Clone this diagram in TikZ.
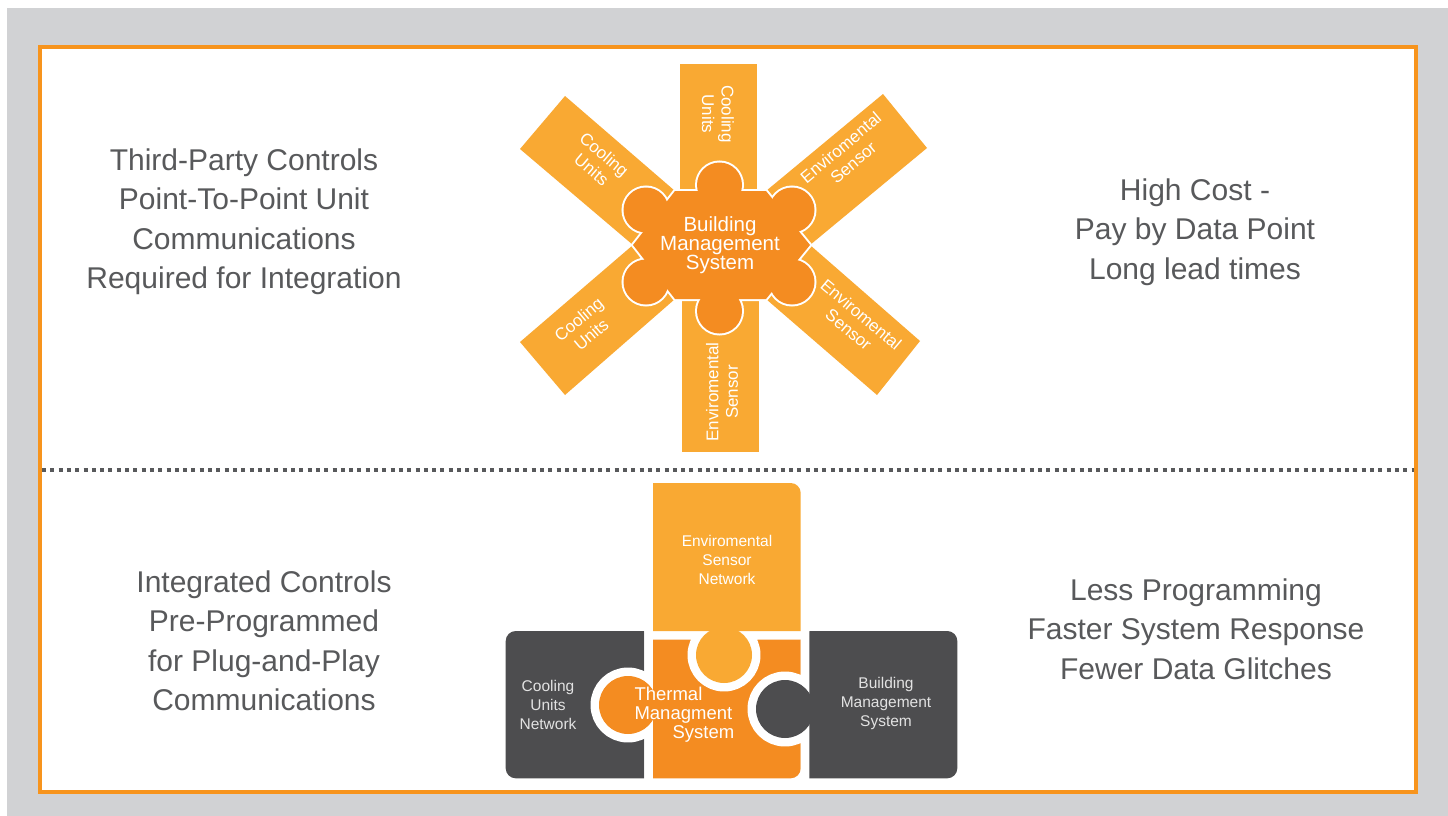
\documentclass[tikz,border=0pt]{standalone}
\usepackage{fontspec}
\setmainfont{Liberation Sans}
\definecolor{bggray}{HTML}{D1D2D4}
\definecolor{frameorange}{HTML}{F7941D}
\definecolor{txtgray}{HTML}{58595B}
\definecolor{armorange}{HTML}{F9A933}
\definecolor{huborange}{HTML}{F48C21}
\definecolor{pzgray}{HTML}{4D4D4F}
\definecolor{pzlight}{HTML}{E2E2E2}
\begin{document}
\begin{tikzpicture}[x=1pt,y=-1pt,
  sidetext/.style={text=txtgray, font=\fontsize{30}{39.5}\selectfont, align=center},
  armtext/.style={text=white, font=\fontsize{17}{19.5}\selectfont, align=center},
  hubtext/.style={text=white, font=\fontsize{20.5}{19}\selectfont, align=center},
  pztext/.style={font=\fontsize{15.5}{19}\selectfont, align=center},
  thermaltext/.style={text=white, font=\fontsize{18.5}{19}\selectfont, align=left},
  dotline/.style={txtgray, line width=3.5pt, dash pattern=on 4pt off 4.3pt},
  armshape/.style={fill=armorange},
  hubcut/.style={draw=white, line width=4pt},
  pzcut/.style={draw=white, line width=17pt, line join=round},
]
\useasboundingbox (0,0) rectangle (1448,816);
\fill[white] (0,0) rectangle (1448,816);
\fill[bggray] (7,8) rectangle (1448,816);
\draw[frameorange, line width=4pt, fill=white] (40,47) rectangle (1416,792);

% dotted separator
\coordinate (sepL) at (42,470);
\coordinate (sepR) at (1414,470);
\draw[dotline] (sepL) -- (sepR);

% side texts
\node[sidetext] (tl) at (244,221.5) {Third-Party Controls\\Point-To-Point Unit\\Communications\\Required for Integration};
\node[sidetext] (tr) at (1195,232) {High Cost -\\Pay by Data Point\\Long lead times};
\node[sidetext] (bl) at (264,641) {Integrated Controls\\Pre-Programmed\\for Plug-and-Play\\Communications};
\node[sidetext] (br) at (1196,629) {Less Programming\\Faster System Response\\Fewer Data Glitches};

% ---------- star ----------
\fill[armshape] (680,64) rectangle (757,200);
\fill[armshape] (682,290) rectangle (759,452);
\fill[armshape] (565,96) -- (520,149) -- (633,245) -- (675,191) -- cycle;
\fill[armshape] (883,94) -- (927,148) -- (810,245) -- (766,191) -- cycle;
\fill[armshape] (520,342) -- (565,395) -- (675,299) -- (633,245) -- cycle;
\fill[armshape] (920,341) -- (877,395) -- (766,299) -- (810,245) -- cycle;

% hub outline then fill
\foreach \p in {(719.5,185),(719.5,311),(646,210),(792,210),(646,282),(792,282)}
  \draw[hubcut] \p circle[radius=22.5];
\draw[hubcut] (675,191) -- (766,191) -- (810,245) -- (766,299) -- (675,299) -- (633,245) -- cycle;
\fill[huborange] (675,191) -- (766,191) -- (810,245) -- (766,299) -- (675,299) -- (633,245) -- cycle;
\foreach \p in {(719.5,185),(719.5,311),(646,210),(792,210),(646,282),(792,282)}
  \fill[huborange] \p circle[radius=22.5];

\node[hubtext] (hub) at (720,245) {Building\\Management\\System};
\node[armtext, rotate=-90] (armT) at (718,114) {Cooling\\Units};
\node[armtext, rotate=90] (armB) at (722,392) {Enviromental\\Sensor};
\node[armtext, rotate=-40] (armUL) at (598,162) {Cooling\\Units};
\node[armtext, rotate=40] (armUR) at (847,155) {Enviromental\\Sensor};
\node[armtext, rotate=40] (armLL) at (585,327) {Cooling\\Units};
\node[armtext, rotate=-40] (armLR) at (855,322) {Enviromental\\Sensor};

% ---------- puzzle ----------
% left gray piece
\fill[pzgray] (644,631) -- (644,778.3) -- (515.7,778.3) .. controls (510.2,778.3) and (505.7,773.8) .. (505.7,768.3)
  -- (505.7,641) .. controls (505.7,635.5) and (510.2,631) .. (515.7,631) -- cycle;
% middle orange piece with left knob
\draw[pzcut] (653,631) -- (800.7,631) -- (800.7,768.3) .. controls (800.7,773.8) and (796.2,778.3) .. (790.7,778.3) -- (653,778.3) -- cycle
  (628,705) circle[radius=29];
\fill[huborange] (653,631) -- (800.7,631) -- (800.7,768.3) .. controls (800.7,773.8) and (796.2,778.3) .. (790.7,778.3) -- (653,778.3) -- cycle;
\fill[huborange] (628,705) circle[radius=29];
% right gray piece with knob
\draw[pzcut] (809.3,631) -- (947.3,631) .. controls (952.8,631) and (957.3,635.5) .. (957.3,641) -- (957.3,768.3) .. controls (957.3,773.8) and (952.8,778.3) .. (947.3,778.3) -- (809.3,778.3) -- cycle
  (785,709) circle[radius=29];
\fill[pzgray] (809.3,631) -- (947.3,631) .. controls (952.8,631) and (957.3,635.5) .. (957.3,641) -- (957.3,768.3) .. controls (957.3,773.8) and (952.8,778.3) .. (947.3,778.3) -- (809.3,778.3) -- cycle;
\fill[pzgray] (785,709) circle[radius=29];
% top light piece with knob
\draw[pzcut] (653,483) -- (790.7,483) .. controls (796.2,483) and (800.7,487.5) .. (800.7,493) -- (800.7,631) -- (653,631) -- cycle
  (724,655) circle[radius=28];
\fill[armorange] (653,483) -- (790.7,483) .. controls (796.2,483) and (800.7,487.5) .. (800.7,493) -- (800.7,631) -- (653,631) -- cycle;
\fill[armorange] (724,655) circle[radius=28];

\node[pztext, text=white] (esn) at (727,560) {Enviromental\\Sensor\\Network};
\node[pztext, text=pzlight] (cun) at (548,705) {Cooling\\Units\\Network};
\node[pztext, text=pzlight] (bms) at (886,703) {Building\\Management\\System};
\node[thermaltext, anchor=west] (tms) at (631,715) {Thermal\\Managment\\\hspace*{38pt}System};
\end{tikzpicture}
\end{document}
